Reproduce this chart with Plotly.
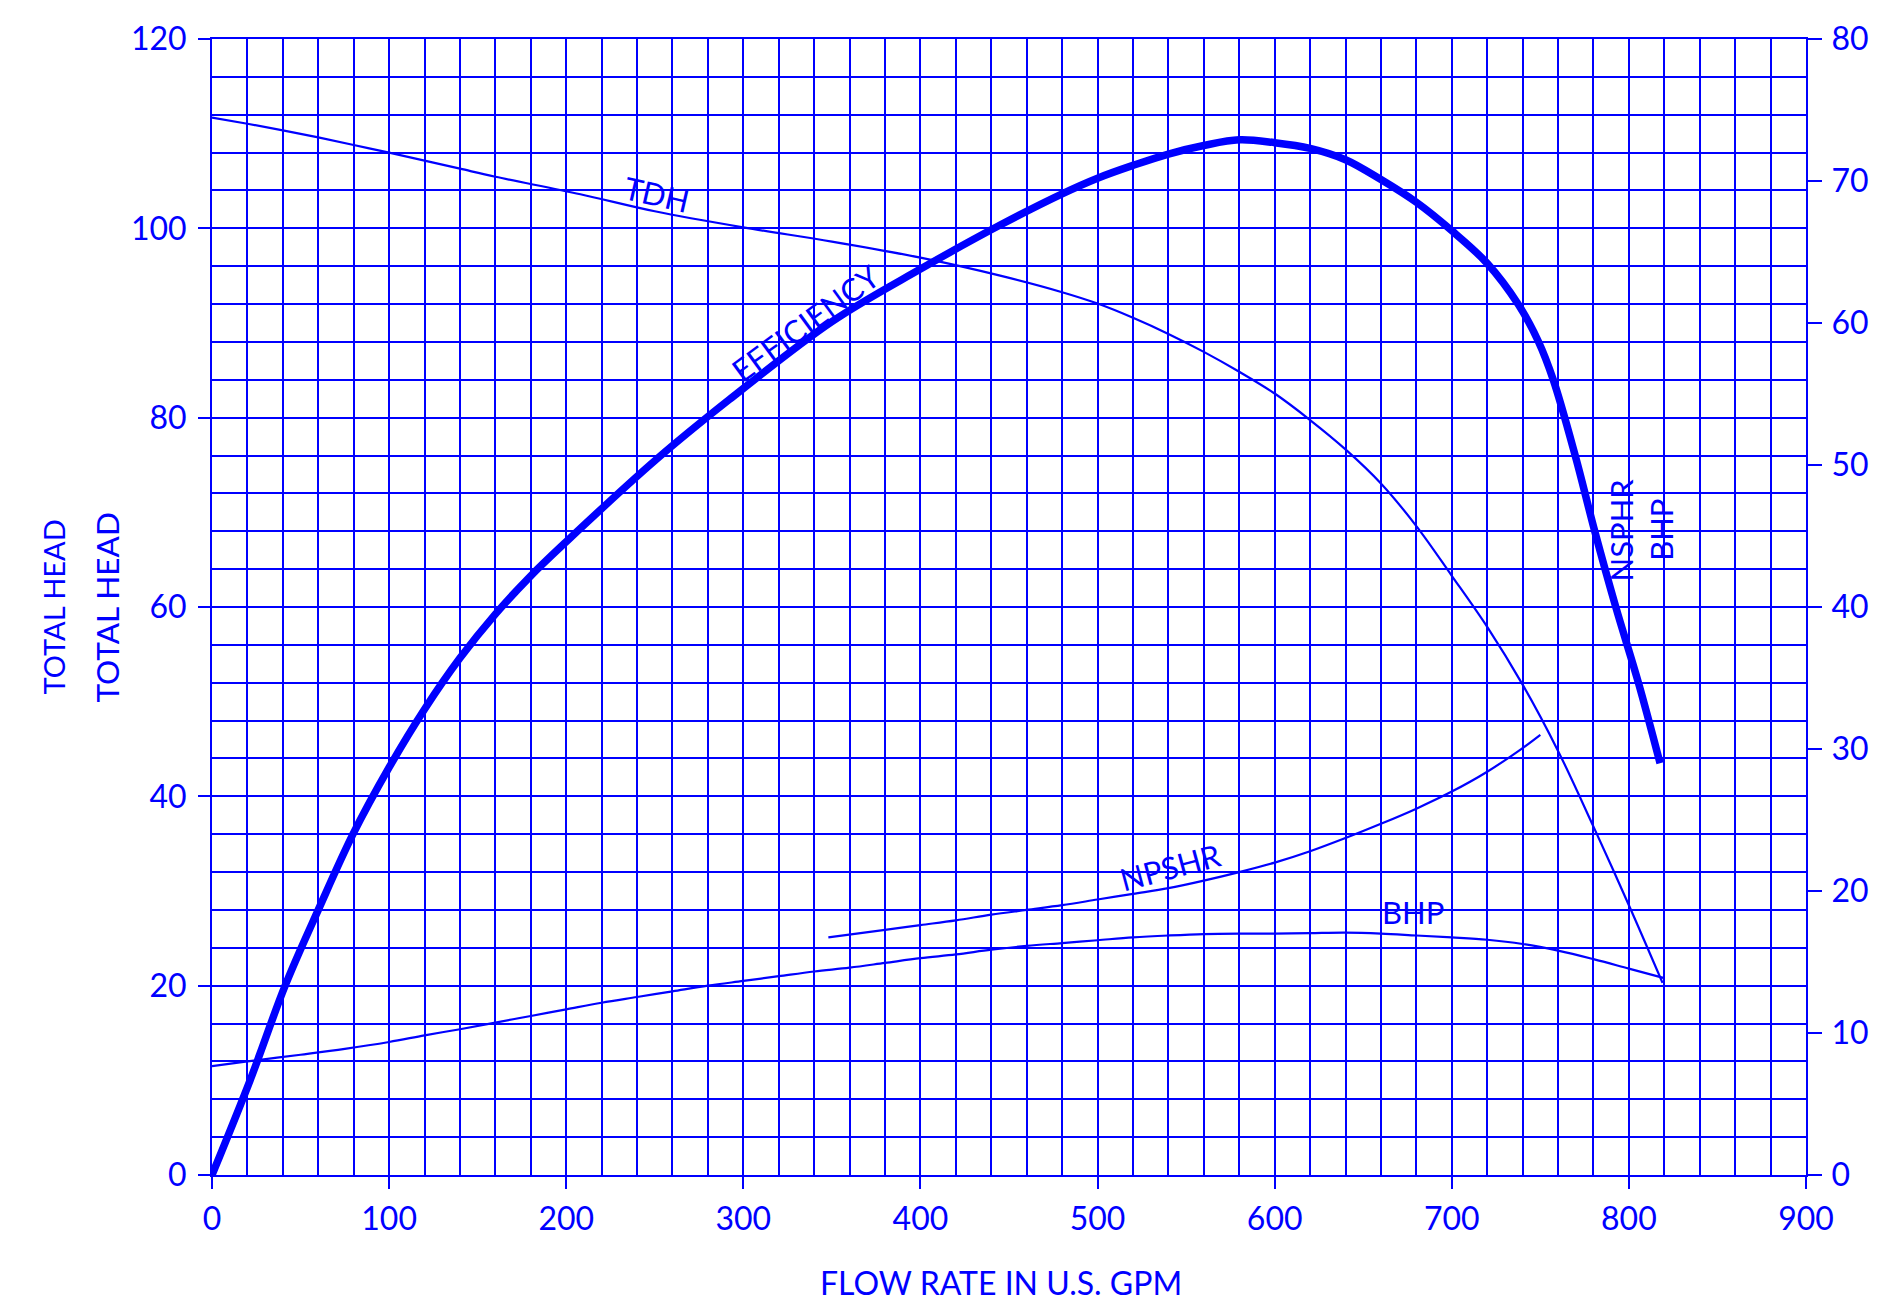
import plotly.graph_objects as go

BLUE = "#0000FF"
FONT = "Lato"

# ---- data ----
flow_eff = [0, 21.5, 41.3, 60, 79.6, 100, 120, 140, 160, 180, 200, 250, 292, 350, 400,
            445, 480, 500, 520, 540, 560, 580, 600, 620, 640, 660, 680, 700, 720,
            737.6, 748.9, 757.3, 769.6, 780.8, 792.6, 805.3, 817.6]
efficiency = [0, 6.67, 13.33, 18.67, 24.0, 28.7, 32.8, 36.4, 39.5, 42.2, 44.6, 50.3, 54.6, 60.1, 63.8,
              66.9, 69.1, 70.2, 71.1, 71.9, 72.5, 72.9, 72.7, 72.3, 71.5, 70.1, 68.5, 66.5, 64.2,
              61.3, 58.7, 56.0, 50.7, 45.3, 40.0, 34.7, 29.0]

flow_tdh = [0, 20, 40, 60, 80, 100, 120, 140, 160, 208, 250, 300, 350, 400, 445, 480, 500, 520,
            540, 560, 580, 600, 620, 640, 660, 680, 700, 720, 740, 760, 780, 800, 819]
tdh = [111.7, 111.05, 110.35, 109.6, 108.8, 108.0, 107.15, 106.3, 105.45, 103.6, 101.8, 100.1, 98.6,
       96.9, 95.0, 93.25, 92.05, 90.55, 88.85, 86.95, 84.85, 82.55, 79.75, 76.65, 73.05, 68.55,
       63.3, 57.9, 51.8, 44.8, 36.8, 28.5, 20.3]

flow_bhp = [0, 20, 50, 75, 100, 120, 140, 160, 180, 200, 220, 240, 260, 280, 300, 320, 340, 360, 380,
            400, 420, 440, 460, 480, 500, 520, 540, 560, 580, 600, 620, 640, 660, 680, 700, 720,
            740, 760, 780, 800, 820]
bhp = [11.5, 12.0, 12.7, 13.32, 14.05, 14.75, 15.4, 16.1, 16.8, 17.5, 18.2, 18.8, 19.4, 20.0, 20.5, 21.0,
       21.5, 21.9, 22.4, 22.9, 23.3, 23.8, 24.2, 24.5, 24.8, 25.1, 25.3, 25.45, 25.5, 25.5, 25.55,
       25.6, 25.5, 25.3, 25.1, 24.85, 24.4, 23.7, 22.8, 21.8, 20.8]

flow_npshr = [348, 380, 400, 420, 440, 460, 480, 500, 520, 540, 560, 580, 600, 620, 640, 660, 680,
              700, 720, 740, 750]
npshr = [25.1, 25.9, 26.4, 26.9, 27.5, 28.0, 28.5, 29.1, 29.7, 30.3, 31.1, 32.0, 33.0, 34.2, 35.6,
         37.1, 38.7, 40.5, 42.6, 45.1, 46.5]

x_ticks = [0, 100, 200, 300, 400, 500, 600, 700, 800, 900]
left_ticks = [0, 20, 40, 60, 80, 100, 120]
right_ticks = [0, 10, 20, 30, 40, 50, 60, 70, 80]

# curve labels: (text, x, y, angle)
labels = [
    ("TDH", 251, 103.6, 13),
    ("EFFICIENCY", 335, 90.0, -36),
    ("NPSHR", 541, 32.5, -15),
    ("BHP", 678, 27.8, 0),
    ("NSPHR", 795.6, 68.1, -90),
    ("BHP", 818.4, 68.2, -90),
]

W, H = 1881, 1302
L, R, T, B = 212, 75, 39, 127

fig = go.Figure()
line_kw = dict(color=BLUE, shape="spline", smoothing=1.0)
fig.add_trace(go.Scatter(x=flow_tdh, y=tdh, mode="lines", line=dict(width=2.2, **line_kw),
                         name="TDH", yaxis="y"))
fig.add_trace(go.Scatter(x=flow_bhp, y=bhp, mode="lines", line=dict(width=2.2, **line_kw),
                         name="BHP", yaxis="y"))
fig.add_trace(go.Scatter(x=flow_npshr, y=npshr, mode="lines", line=dict(width=2.2, **line_kw),
                         name="NPSHR", yaxis="y"))
fig.add_trace(go.Scatter(x=flow_eff, y=efficiency, mode="lines", line=dict(width=7.5, **line_kw),
                         name="EFFICIENCY", yaxis="y2"))

tickfont = dict(family=FONT, size=32, color=BLUE)
fig.update_layout(
    width=W, height=H,
    margin=dict(l=L, r=R, t=T, b=B),
    paper_bgcolor="white", plot_bgcolor="white",
    showlegend=False,
    font=dict(family=FONT, color=BLUE),
    xaxis=dict(range=[0, 900], tickvals=x_ticks, ticks="outside", ticklen=12, tickwidth=2,
               tickcolor=BLUE, showline=True, linecolor=BLUE, linewidth=2, mirror=True,
               showgrid=True, gridcolor=BLUE, gridwidth=2, zeroline=False,
               minor=dict(dtick=20, showgrid=True, gridcolor=BLUE, gridwidth=2),
               tickfont=tickfont, ticklabelstandoff=3),
    yaxis=dict(range=[0, 120], tickvals=left_ticks, ticks="outside", ticklen=12, tickwidth=2,
               tickcolor=BLUE, showline=True, linecolor=BLUE, linewidth=2,
               showgrid=True, gridcolor=BLUE, gridwidth=2, zeroline=False,
               minor=dict(dtick=4, showgrid=True, gridcolor=BLUE, gridwidth=2),
               tickfont=tickfont, ticklabelstandoff=5),
    yaxis2=dict(range=[0, 80], tickvals=right_ticks, overlaying="y", side="right",
                ticks="outside", ticklen=14, tickwidth=2, tickcolor=BLUE, showline=True,
                linecolor=BLUE, linewidth=2, showgrid=False, zeroline=False,
                tickfont=tickfont, ticklabelstandoff=3),
)

for text, x, y, ang in labels:
    fig.add_annotation(x=x, y=y, xref="x", yref="y", text=text, showarrow=False,
                       xanchor="center", yanchor="middle",
                       textangle=ang, font=dict(family=FONT, size=31, color=BLUE))

pw, ph = W - L - R, H - T - B
# axis titles
fig.add_annotation(x=(52.5 - L) / pw, y=0.5, xref="paper", yref="paper", text="TOTAL HEAD",
                   xanchor="center", yanchor="middle",
                   showarrow=False, textangle=-90, font=dict(family=FONT, size=29, color=BLUE))
fig.add_annotation(x=(106.5 - L) / pw, y=0.5, xref="paper", yref="paper", text="TOTAL HEAD",
                   xanchor="center", yanchor="middle",
                   showarrow=False, textangle=-90, font=dict(family=FONT, size=31.5, color=BLUE))
fig.add_annotation(x=(1001 - L) / pw, y=(H - B - 1282) / ph, xref="paper", yref="paper",
                   xanchor="center", yanchor="middle",
                   text="FLOW RATE IN U.S. GPM", showarrow=False,
                   font=dict(family=FONT, size=32, color=BLUE))

fig.write_html("out.html", config={"displayModeBar": False},
               post_script="document.body.style.margin='0';document.body.style.overflow='hidden';")
